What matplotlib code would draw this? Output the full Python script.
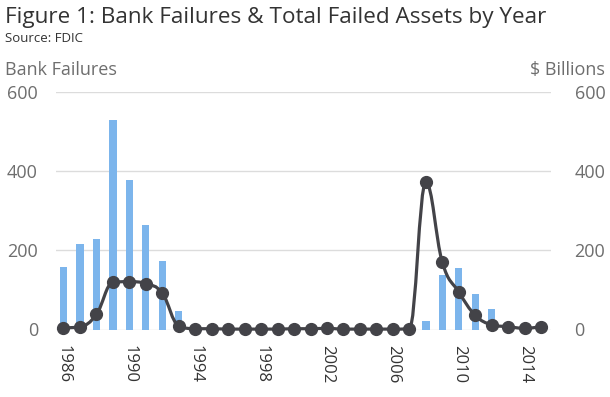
import matplotlib
matplotlib.use("Agg")
import matplotlib.pyplot as plt
from matplotlib.path import Path
from matplotlib.patches import PathPatch
import numpy as np

plt.rcParams['font.family'] = ['Open Sans', 'DejaVu Sans']

# Data
years = list(range(1986, 2016))
bank_failures = [158, 217, 228, 529, 377, 265, 172, 46,
                 0, 0, 0, 0, 0, 0, 0, 0, 0, 0, 0, 0, 0, 0,
                 22, 137, 156, 89, 51, 0, 0, 0]
failed_assets = [4, 7, 38, 119, 121, 116, 92, 9,
                 2, 2, 1, 1, 1, 1, 2, 2, 3, 1, 1, 1, 1, 2,
                 372, 170, 95, 36, 12, 7, 3, 7]
tick_years = [1986, 1990, 1994, 1998, 2002, 2006, 2010, 2014]
y_ticks = [0, 200, 400, 600]

BAR_COLOR = '#7cb5ec'
LINE_COLOR = '#434348'
GRID_COLOR = '#dcdcdc'
LABEL_COLOR = '#6e6e6e'


def spline_path(xs, ys, smoothing=1.5):
    # cubic bezier smoothing, similar to a charting-library "spline" series
    denom = smoothing + 1
    n = len(xs)
    left = [(xs[0], ys[0])] * n
    right = [(xs[-1], ys[-1])] * n
    for i in range(n):
        x, y = xs[i], ys[i]
        if i == 0 or i == n - 1:
            left[i] = (x, y)
            right[i] = (x, y)
            continue
        lx, ly = xs[i - 1], ys[i - 1]
        nx, ny = xs[i + 1], ys[i + 1]
        lcx = (smoothing * x + lx) / denom
        lcy = (smoothing * y + ly) / denom
        rcx = (smoothing * x + nx) / denom
        rcy = (smoothing * y + ny) / denom
        corr = ((rcy - lcy) * (rcx - x)) / (rcx - lcx) + y - rcy
        lcy += corr
        rcy += corr
        if lcy > ly and lcy > y:
            lcy = max(ly, y)
            rcy = 2 * y - lcy
        elif lcy < ly and lcy < y:
            lcy = min(ly, y)
            rcy = 2 * y - lcy
        if rcy > ny and rcy > y:
            rcy = max(ny, y)
            lcy = 2 * y - rcy
        elif rcy < ny and rcy < y:
            rcy = min(ny, y)
            lcy = 2 * y - rcy
        left[i] = (lcx, lcy)
        right[i] = (rcx, rcy)
    verts = [(xs[0], ys[0])]
    codes = [Path.MOVETO]
    for i in range(1, n):
        verts += [right[i - 1], left[i], (xs[i], ys[i])]
        codes += [Path.CURVE4] * 3
    return Path(verts, codes)


fig = plt.figure(figsize=(6.1, 3.97), dpi=100)
ax = fig.add_axes([56 / 610, 67.5 / 397, 495 / 610, 237.5 / 397])
ax2 = ax.twinx()

ax.bar(years, bank_failures, width=0.45, color=BAR_COLOR, zorder=2)
ax.set_xlim(1985.55, 2015.6)
ax.set_ylim(0, 600)
ax2.set_ylim(0, 600)

for v in y_ticks:
    ax.axhline(v, color=GRID_COLOR, lw=1, zorder=0)

ax2.add_patch(PathPatch(spline_path(years, failed_assets), fill=False,
                        edgecolor=LINE_COLOR, lw=2.3, zorder=3, clip_on=False))
ax2.plot(years, failed_assets, 'o', color=LINE_COLOR, ms=8.5, zorder=4,
         clip_on=False)

for a in (ax, ax2):
    for s in a.spines.values():
        s.set_visible(False)

ax.set_yticks(y_ticks)
ax.tick_params(axis='y', length=0, pad=13, labelsize=13, labelcolor=LABEL_COLOR)
ax2.set_yticks(y_ticks)
ax2.tick_params(axis='y', length=0, pad=17, labelsize=13, labelcolor=LABEL_COLOR)
ax.set_xticks(tick_years)
ax.set_xticklabels([str(y) for y in tick_years], rotation=-90, va='top')
ax.tick_params(axis='x', length=0, pad=11, labelsize=12, labelcolor='#333333')

fig.text(5 / 610, 1 - 18 / 397, 'Figure 1: Bank Failures & Total Failed Assets by Year',
         fontsize=16.2, color='#333333', va='center', ha='left')
fig.text(5 / 610, 1 - 38 / 397, 'Source: FDIC', fontsize=9.5, color='#333333',
         va='center', ha='left')
fig.text(5 / 610, 1 - 70 / 397, 'Bank Failures', fontsize=13, color=LABEL_COLOR,
         va='center', ha='left')
fig.text(605 / 610, 1 - 70 / 397, '$ Billions', fontsize=13, color=LABEL_COLOR,
         va='center', ha='right')

fig.savefig('out.png', dpi=100)
